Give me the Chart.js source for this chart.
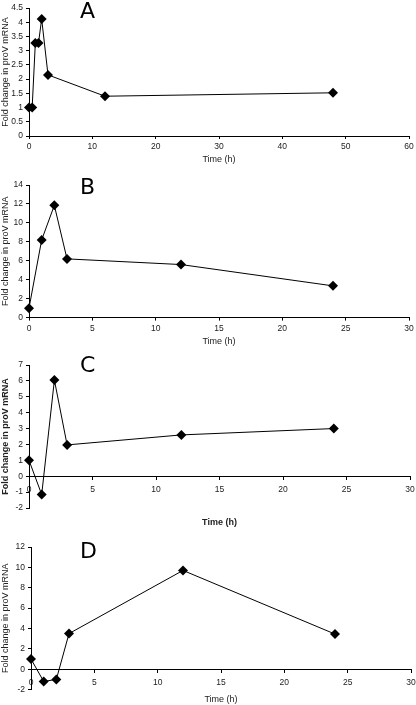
<!DOCTYPE html>
<html>
<head>
<meta charset="utf-8">
<script src="https://cdn.jsdelivr.net/npm/chart.js@4.4.0/dist/chart.umd.min.js"></script>
<style>
  body{margin:0;background:#fff;width:416px;height:705px;position:relative;overflow:hidden;font-family:"Liberation Sans",Arial,sans-serif}
  canvas{position:absolute;left:0}
  .tag{position:absolute;font-family:"DejaVu Sans","Liberation Sans",sans-serif;font-size:22px;color:#000;line-height:1}
</style>
</head>
<body>
<canvas id="chartA" width="416" height="175" style="top:0px"></canvas>
<canvas id="chartB" width="416" height="175" style="top:175px"></canvas>
<canvas id="chartC" width="416" height="180" style="top:350px"></canvas>
<canvas id="chartD" width="416" height="180" style="top:525px"></canvas>
<div class="tag" style="left:80px;top:0px">A</div>
<div class="tag" style="left:80px;top:176px">B</div>
<div class="tag" style="left:80px;top:354px">C</div>
<div class="tag" style="left:80px;top:540px">D</div>
<script>
// panel data
var timeA=[0,0.5,1,1.5,2,3,12,48]
var foldA=[1.0,1.0,3.27,3.27,4.12,2.15,1.4,1.52]

var timeB=[0,1,2,3,12,24]
var foldB=[1.0,8.2,11.85,6.2,5.6,3.35]

var timeC=[0,1,2,3,12,24]
var foldC=[1.0,-1.15,6.05,1.97,2.6,3.0]

var timeD=[0,1,2,3,12,24]
var foldD=[1.0,-1.2,-1.0,3.5,9.7,3.45]

var yTitle='Fold change in proV mRNA'
var xTitle='Time (h)'

function pts(xs,ys){
  var out=[]
  for(var i=0;i<xs.length;i++){ out.push({x:xs[i],y:ys[i]}) }
  return out
}

function BuildChart(id,xs,ys,cfg){
  var ctx=document.getElementById(id).getContext('2d')
  var tickFont={family:'"Liberation Sans", Arial, sans-serif',size:8.5}
  var titleFont={family:'"Liberation Sans", Arial, sans-serif',size:9,weight:cfg.bold?'bold':'normal'}
  var plain=function(v){ return String(Math.round(v*100)/100) }
  var chart=new Chart(ctx,{
    type:'scatter',
    data:{
      datasets:[{
        data:pts(xs,ys),
        showLine:true,
        clip:false,
        borderColor:'#000',
        borderWidth:1,
        backgroundColor:'#000',
        pointStyle:'rectRot',
        pointRadius:5,
        pointBorderWidth:0,
        tension:0
      }]
    },
    options:{
      responsive:false,
      animation:false,
      devicePixelRatio:1,
      layout:{padding:{top:cfg.padTop,right:cfg.padRight,left:0,bottom:cfg.padBottom}},
      plugins:{
        legend:{display:false},
        tooltip:{enabled:false},
        title:{
          display:true,
          text:xTitle,
          position:'bottom',
          fullSize:false,
          color:'#222',
          font:titleFont,
          padding:{top:cfg.titleGap,bottom:0}
        }
      },
      scales:{
        x:{
          type:'linear',
          position:cfg.atZero?{y:0}:'bottom',
          min:cfg.xMin,max:cfg.xMax,
          ticks:{stepSize:cfg.xStep,color:'#222',font:tickFont,padding:cfg.atZero?5:3,maxRotation:0,callback:plain},
          grid:{display:true,drawOnChartArea:false,drawTicks:true,tickLength:3,color:'#000'},
          border:{display:true,color:'#000',width:1},
          afterFit:function(s){
            if(!cfg.atZero){ s.height=cfg.xHeight }
            s.paddingRight=0
          }
        },
        y:{
          type:'linear',
          min:cfg.yMin,max:cfg.yMax,
          ticks:{stepSize:cfg.yStep,color:'#222',font:tickFont,padding:3,callback:plain},
          grid:{display:true,drawOnChartArea:false,drawTicks:true,tickLength:3,color:'#000'},
          border:{display:true,color:'#000',width:1},
          title:{display:true,text:yTitle,color:'#222',font:titleFont,padding:{top:0,bottom:0}},
          afterFit:function(s){ s.width=cfg.yWidth }
        }
      }
    }
  })
  return chart
}

BuildChart('chartA',timeA,foldA,{xMin:0,xMax:60,xStep:10,yMin:0,yMax:4.5,yStep:0.5,
  padTop:4,padRight:7,padBottom:9.6,titleGap:0,xHeight:18.6,yWidth:29})
BuildChart('chartB',timeB,foldB,{xMin:0,xMax:30,xStep:5,yMin:0,yMax:14,yStep:2,
  padTop:10,padRight:7,padBottom:3,titleGap:0,xHeight:18.6,yWidth:29})
BuildChart('chartC',timeC,foldC,{xMin:0,xMax:30,xStep:5,yMin:-2,yMax:7,yStep:1,atZero:true,bold:true,
  padTop:15,padRight:6,padBottom:1.6,titleGap:9.6,yWidth:29})
BuildChart('chartD',timeD,foldD,{xMin:0,xMax:30,xStep:5,yMin:-2,yMax:12,yStep:2,atZero:true,
  padTop:22,padRight:5,padBottom:0,titleGap:4.6,yWidth:31})
</script>
</body>
</html>
